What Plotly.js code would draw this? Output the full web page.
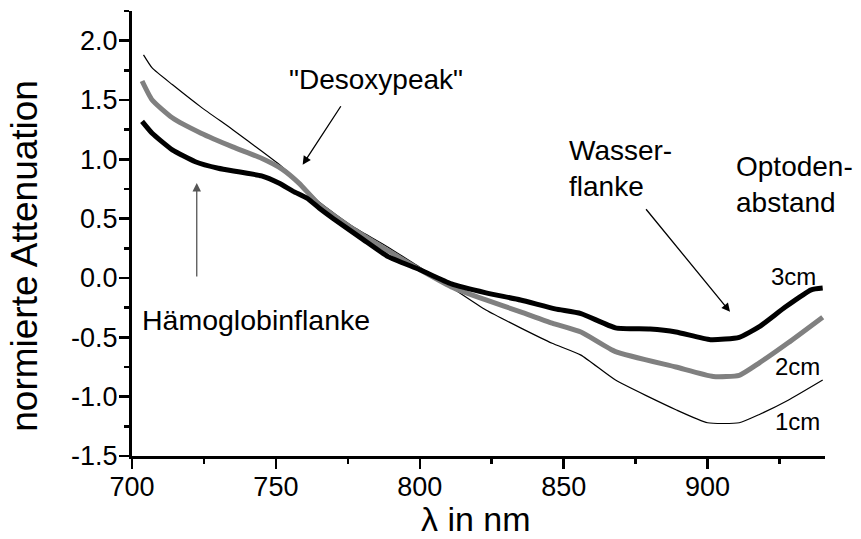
<!DOCTYPE html>
<html>
<head>
<meta charset="utf-8">
<script src="https://cdn.plot.ly/plotly-3.0.1.min.js"></script>
<style>html,body{margin:0;padding:0;background:#fff;}#chart{width:861px;height:539px;}</style>
</head>
<body>
<div id="chart"></div>
<script>
// ---- data ----
const wl3 = [703.5, 707, 714, 722, 730, 737, 745, 751, 756, 761, 765, 770, 780, 789, 800, 811, 823, 835, 847, 856, 868, 880, 889, 901, 911, 918, 927, 936, 940];
const att3 = [1.32, 1.22, 1.08, 0.98, 0.925, 0.895, 0.86, 0.80, 0.73, 0.67, 0.59, 0.50, 0.33, 0.18, 0.07, -0.05, -0.125, -0.185, -0.26, -0.30, -0.42, -0.43, -0.455, -0.52, -0.50, -0.41, -0.245, -0.10, -0.085];

const wl2 = [703.5, 707, 714, 724, 735, 745, 752, 758, 765, 777, 789, 800, 811, 823, 835, 846, 856, 868, 889, 902, 911, 918, 928, 940];
const att2 = [1.66, 1.50, 1.35, 1.22, 1.105, 1.01, 0.92, 0.80, 0.62, 0.41, 0.23, 0.07, -0.075, -0.185, -0.285, -0.38, -0.455, -0.62, -0.75, -0.83, -0.82, -0.715, -0.546, -0.33];

const wl1 = [704, 707, 714, 724, 735, 745, 752, 758, 765, 777, 789, 800, 811, 823, 835, 846, 856, 868, 889, 900, 911, 918, 928, 940];
const att1 = [1.88, 1.77, 1.63, 1.44, 1.25, 1.07, 0.94, 0.81, 0.64, 0.43, 0.26, 0.09, -0.08, -0.27, -0.42, -0.55, -0.65, -0.86, -1.11, -1.22, -1.22, -1.15, -1.03, -0.86];

const seriesNames = ['3cm', '2cm', '1cm'];
const xTickVals = [700, 750, 800, 850, 900];
const xTickText = ['700', '750', '800', '850', '900'];
const yTickVals = [-1.5, -1.0, -0.5, 0.0, 0.5, 1.0, 1.5, 2.0];
const yTickText = ['-1.5', '-1.0', '-0.5', '0.0', '0.5', '1.0', '1.5', '2.0'];

const FONT = 'Liberation Sans, Arial, Helvetica, sans-serif';

const traces = [
  {x: wl1, y: att1, name: seriesNames[2], mode: 'lines', line: {color: '#000', width: 1.2, shape: 'spline', smoothing: 0.5}},
  {x: wl2, y: att2, name: seriesNames[1], mode: 'lines', line: {color: '#808080', width: 5, shape: 'spline', smoothing: 0.5}},
  {x: wl3, y: att3, name: seriesNames[0], mode: 'lines', line: {color: '#000', width: 5, shape: 'spline', smoothing: 0.5}}
];

const txt = (text, x, y, size, xanchor, extra) => Object.assign({
  text: text, x: x, y: y, xref: 'x', yref: 'y', showarrow: false,
  xanchor: xanchor || 'center', yanchor: 'middle', align: 'left',
  font: {family: FONT, size: size, color: '#000'}
}, extra || {});

const arrow = (x, y, ax, ay, color) => ({
  text: '', x: x, y: y, ax: ax, ay: ay, xref: 'x', yref: 'y', axref: 'x', ayref: 'y',
  showarrow: true, arrowhead: 2, arrowsize: 1.3, arrowwidth: 1.3, arrowcolor: color || '#000'
});

const layout = {
  width: 861, height: 539,
  margin: {l: 132, r: 36, t: 11, b: 83, pad: 0},
  paper_bgcolor: '#fff', plot_bgcolor: '#fff',
  showlegend: false,
  font: {family: FONT, size: 27, color: '#000'},
  xaxis: {
    range: [700, 940.8], tickmode: 'array', tickvals: xTickVals, ticktext: xTickText,
    showgrid: false, zeroline: false, showline: true, linewidth: 3, linecolor: '#000',
    ticks: 'outside', ticklen: 10, tickwidth: 2.5, tickcolor: '#000', ticklabelstandoff: -5,
    tickfont: {family: FONT, size: 27, color: '#000'},
    minor: {tickmode: 'linear', tick0: 700, dtick: 25, ticks: 'outside', ticklen: 5, tickwidth: 2.5, tickcolor: '#000', showgrid: false}
  },
  yaxis: {
    range: [-1.5, 2.25], tickmode: 'array', tickvals: yTickVals, ticktext: yTickText,
    showgrid: false, zeroline: false, showline: true, linewidth: 3, linecolor: '#000',
    ticks: 'outside', ticklen: 10, tickwidth: 2.5, tickcolor: '#000', ticklabelstandoff: -4,
    tickfont: {family: FONT, size: 27, color: '#000'},
    minor: {tickmode: 'linear', tick0: -1.5, dtick: 0.25, ticks: 'outside', ticklen: 5, tickwidth: 2.5, tickcolor: '#000', showgrid: false}
  },
  annotations: [
    {text: 'normierte Attenuation', textangle: -90, xref: 'paper', yref: 'paper', x: -0.155, y: 0.449,
     showarrow: false, xanchor: 'center', yanchor: 'middle', font: {family: FONT, size: 37, color: '#000'}},
    {text: 'λ in nm', xref: 'paper', yref: 'paper', x: 0.497, y: -0.141,
     showarrow: false, xanchor: 'center', yanchor: 'middle', font: {family: FONT, size: 34, color: '#000'}},
    txt('"Desoxypeak"', 784.8, 1.67, 28),
    txt('Hämoglobinflanke', 702.8, -0.353, 28.5, 'left'),
    txt('Wasser-<br>flanke', 851.1, 0.92, 28, 'left'),
    txt('Optoden-<br>abstand', 909.2, 0.79, 28, 'left'),
    txt('3cm', 930.0, 0.01, 24),
    txt('2cm', 931.1, -0.749, 24),
    txt('1cm', 931.4, -1.213, 24),
    arrow(759.3, 0.955, 772.9, 1.46),
    arrow(722.5, 0.80, 722.5, 0.0, '#555'),
    arrow(907.8, -0.285, 878.2, 0.592)
  ]
};

Plotly.newPlot('chart', traces, layout, {displayModeBar: false, staticPlot: true});
</script>
</body>
</html>
